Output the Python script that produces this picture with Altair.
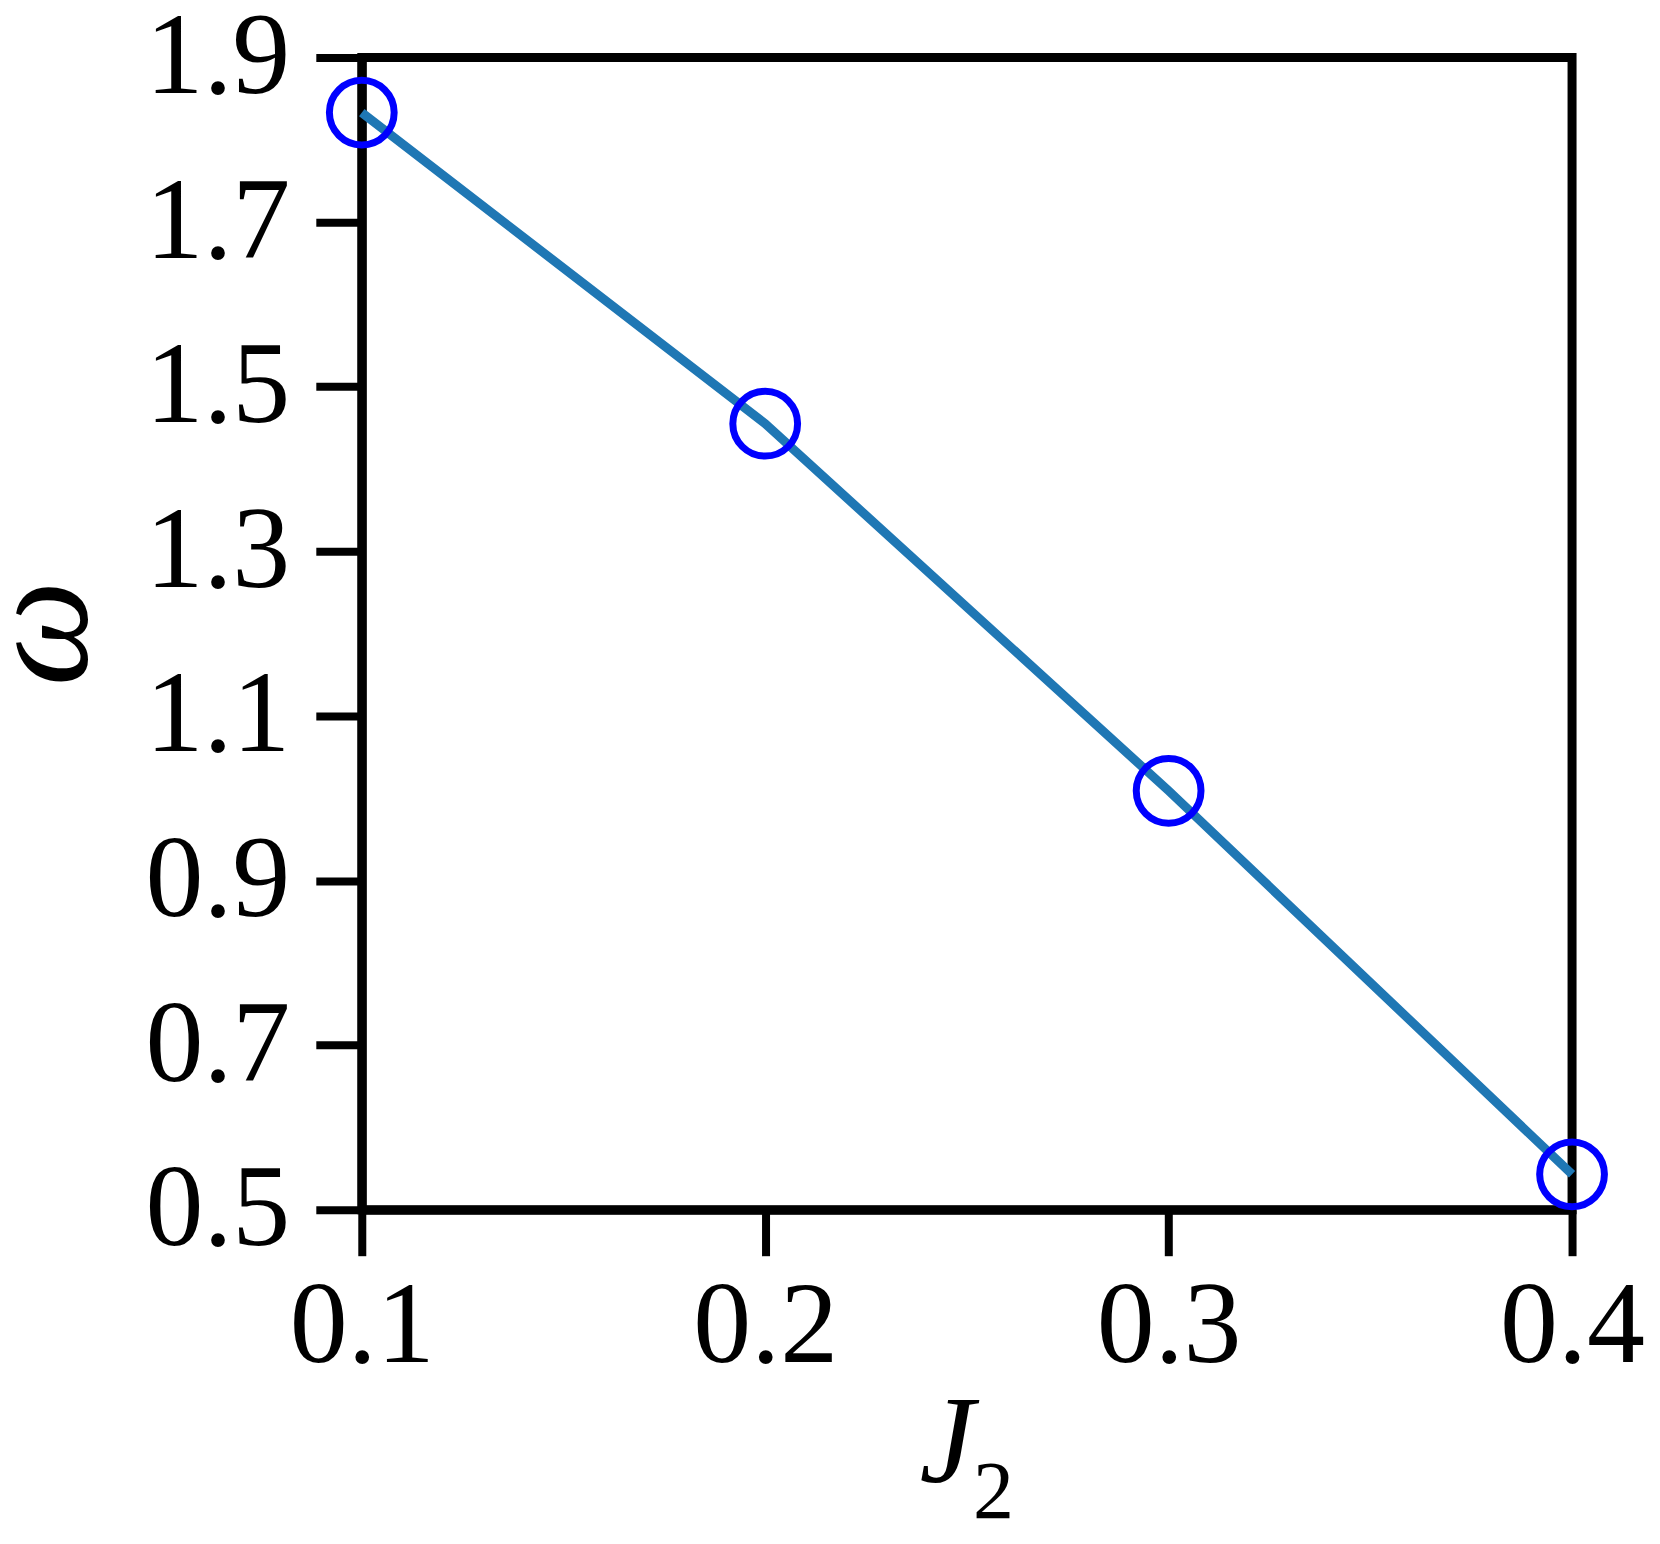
import altair as alt
import pandas as pd

j2 = [0.1, 0.2, 0.3, 0.4]
omega = [1.833, 1.455, 1.009, 0.543]
x_ticks = [0.1, 0.2, 0.3, 0.4]
y_ticks = [0.5, 0.7, 0.9, 1.1, 1.3, 1.5, 1.7, 1.9]
x_title_main = "J"
x_title_sub = ["2"]
y_title = "ω"

df = pd.DataFrame({"J2": j2, "omega": omega})
sub_df = pd.DataFrame({"t": x_title_sub})

FONT = "Liberation Serif"

x_enc = alt.X(
    "J2:Q",
    scale=alt.Scale(domain=[0.1, 0.4], nice=False, zero=False),
    axis=alt.Axis(
        values=x_ticks, format=".1f", title=x_title_main,
        grid=False, domain=True, domainColor="black", domainWidth=9,
        ticks=True, tickColor="black", tickWidth=8, tickSize=46,
        labelFont=FONT, labelFontSize=116, labelColor="black", labelPadding=14,
        labelFlush=False, labelOverlap=False,
        titleFont=FONT, titleFontSize=124, titleFontStyle="italic", titleFontWeight="normal",
        titleColor="black", titleX=585, titleY=272, titleBaseline="alphabetic", titleAlign="center",
    ),
)
y_enc = alt.Y(
    "omega:Q",
    scale=alt.Scale(domain=[0.5, 1.9], nice=False, zero=False),
    axis=alt.Axis(
        values=y_ticks, format=".1f", title=y_title,
        grid=False, domain=True, domainColor="black", domainWidth=9,
        ticks=True, tickColor="black", tickWidth=8, tickSize=46,
        labelFont=FONT, labelFontSize=116, labelColor="black", labelPadding=26,
        labelFlush=False, labelOverlap=False,
        titleFont=FONT, titleFontSize=150, titleFontStyle="italic", titleFontWeight="normal",
        titleColor="black", titleAngle=-90, titleX=-320, titleY=576,
        titleBaseline="middle", titleAlign="center",
    ),
)

line = alt.Chart(df).mark_line(color="#1f77b4", strokeWidth=9, clip=False).encode(x=x_enc, y=y_enc)
pts = alt.Chart(df).mark_point(
    shape="circle", filled=False, color="#0000ff", strokeWidth=7, size=4200, opacity=1, clip=False
).encode(x="J2:Q", y="omega:Q")
sub = alt.Chart(sub_df).mark_text(
    font=FONT, fontSize=82, color="black", align="center", baseline="alphabetic", clip=False
).encode(x=alt.value(632), y=alt.value(1461), text="t:N")

chart = (
    alt.layer(line, pts, sub)
    .properties(
        width=1211, height=1153,
        autosize=alt.AutoSizeParams(type="none"),
        padding={"left": 354, "top": 49, "right": 80, "bottom": 330},
        background="white",
    )
    .configure_view(stroke="black", strokeWidth=9)
)

chart.save("out.html", embed_options={"renderer": "svg", "actions": False})
